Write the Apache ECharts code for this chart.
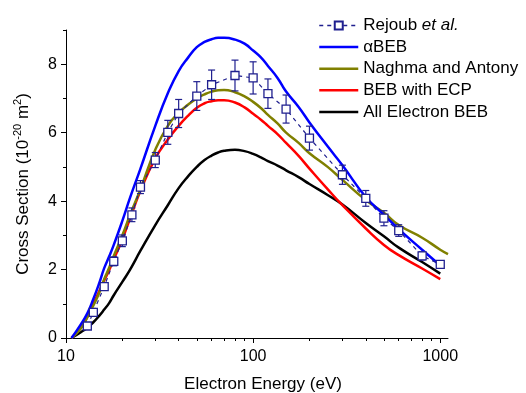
<!DOCTYPE html>
<html><head><meta charset="utf-8">
<script src="https://cdn.jsdelivr.net/npm/echarts@6/dist/echarts.min.js"></script>
<style>html,body{margin:0;padding:0;background:#fff}#c{width:526px;height:393px}</style>
</head><body><div id="c"></div>
<script>
// Electron energies (eV) used for the theoretical curves
const curveEnergy = [10.7, 12, 13, 14, 15, 16, 17, 18, 20, 22, 25, 30, 35, 40, 45, 50, 55, 60, 65, 70, 80, 90, 100, 110, 120, 135, 150, 175, 200, 250, 300, 400, 500, 600, 800, 1000, 1100];
const alphaBEB    = [0, 0.4, 0.72, 1.14, 1.58, 2.04, 2.38, 2.72, 3.42, 4.1, 4.95, 6.2, 7.15, 7.8, 8.2, 8.5, 8.65, 8.73, 8.77, 8.77, 8.72, 8.6, 8.4, 8.2, 7.95, 7.6, 7.2, 6.75, 6.3, 5.6, 5.05, 4.12, 3.6, 3.18, 2.58, 2.12, null];
const naghma      = [0, 0.28, 0.6, 0.95, 1.3, 1.72, 2.05, 2.4, 3.0, 3.6, 4.35, 5.5, 6.2, 6.58, 6.82, 7.0, 7.12, 7.2, 7.24, 7.25, 7.18, 7.06, 6.9, 6.72, 6.52, 6.27, 6.0, 5.7, 5.4, 5.0, 4.62, 4.03, 3.66, 3.3, 2.93, 2.58, 2.45];
const bebECP      = [0, 0.3, 0.62, 1.0, 1.35, 1.68, 1.98, 2.3, 2.88, 3.5, 4.3, 5.25, 5.8, 6.2, 6.5, 6.73, 6.86, 6.92, 6.95, 6.95, 6.88, 6.74, 6.55, 6.38, 6.2, 5.96, 5.7, 5.32, 4.95, 4.35, 3.88, 3.2, 2.72, 2.42, 2.03, 1.72, null];
const allElecBEB  = [0, 0.17, 0.3, 0.46, 0.64, 0.83, 1.02, 1.25, 1.64, 2.0, 2.55, 3.3, 3.88, 4.38, 4.73, 5.0, 5.2, 5.33, 5.42, 5.47, 5.5, 5.46, 5.38, 5.28, 5.17, 5.04, 4.9, 4.7, 4.5, 4.18, 3.9, 3.36, 2.97, 2.64, 2.22, 1.88, null];

// Rejoub et al. measurements
const expEnergy = [13, 14, 16, 18, 20, 22.5, 25, 30, 35, 40, 50, 60, 80, 100, 120, 150, 200, 300, 400, 500, 600, 800, 1000];
const expValue  = [0.35, 0.75, 1.50, 2.24, 2.84, 3.60, 4.41, 5.20, 6.01, 6.56, 7.07, 7.40, 7.67, 7.60, 7.14, 6.69, 5.84, 4.77, 4.08, 3.50, 3.14, 2.40, 2.15];
const expError  = [0.03, 0.05, 0.09, 0.13, 0.17, 0.20, 0.19, 0.22, 0.35, 0.41, 0.42, 0.43, 0.45, 0.47, 0.43, 0.41, 0.35, 0.28, 0.23, 0.22, 0.17, 0.12, 0.10];

// Axis ticks
const xMajorTicks = [10, 100, 1000];
const xMinorTicks = [20, 30, 40, 50, 60, 70, 80, 90, 200, 300, 400, 500, 600, 700, 800, 900];
const yMajorTicks = [0, 2, 4, 6, 8];
const yMinorTicks = [1, 3, 5, 7, 9];

const seriesNames = ['Rejoub et al.', 'αBEB', 'Naghma and Antony', 'BEB with ECP', 'All Electron BEB'];

const FONT = 'Liberation Sans';
const NAVY = '#1f1f8f';

function pairs(xs, ys) {
  const out = [];
  xs.forEach((x, i) => { if (ys[i] !== null && ys[i] !== undefined) out.push([x, ys[i]]); });
  return out;
}

const chart = echarts.init(document.getElementById('c'), null, {renderer: 'canvas'});

const curveSeries = (name, data, color) => ({
  name, type: 'line', data: pairs(curveEnergy, data), smooth: 0.5,
  showSymbol: false, symbol: 'none', color,
  lineStyle: {color, width: 2.5}, z: 3, silent: true
});

chart.setOption({
  animation: false,
  backgroundColor: '#fff',
  grid: {left: 66, right: 78, top: 30, bottom: 55, containLabel: false, outerBoundsMode: 'none'},
  legend: {
    data: seriesNames.map((n, i) => i === 0
      ? {name: n, lineStyle: {width: 1.3, type: [4, 4]}}
      : {name: n, itemStyle: {opacity: 0}, lineStyle: {width: 2.5}}),
    orient: 'vertical', left: 318, top: 17, padding: 0,
    itemWidth: 39, itemHeight: 10, itemGap: 4.6,
    formatter: n => n === 'Rejoub et al.' ? '{n|Rejoub }{i|et al.}' : n,
    textStyle: {fontFamily: FONT, fontSize: 17, color: '#000', lineHeight: 17,
      rich: {n: {fontFamily: FONT, fontSize: 17, lineHeight: 17}, i: {fontFamily: FONT, fontSize: 17, fontStyle: 'italic', lineHeight: 17}}}
  },
  xAxis: [{
    type: 'log', logBase: 10, min: 10, max: 1100,
    axisLine: {lineStyle: {color: '#000', width: 1}},
    axisTick: {show: true, length: 5, inside: false, customValues: xMajorTicks, lineStyle: {color: '#000'}},
    axisLabel: {customValues: xMajorTicks, formatter: v => String(Math.round(v)), fontFamily: FONT, fontSize: 16, color: '#000', margin: 11},
    splitLine: {show: false}, minorTick: {show: false}
  }, {
    type: 'log', logBase: 10, min: 10, max: 1100, position: 'bottom',
    axisLine: {show: false},
    axisTick: {show: true, length: 3, customValues: xMinorTicks, lineStyle: {color: '#000'}},
    axisLabel: {show: false}, splitLine: {show: false}
  }],
  yAxis: [{
    type: 'value', min: 0, max: 9, interval: 2,
    axisLine: {show: true, lineStyle: {color: '#000', width: 1}},
    axisTick: {show: true, length: 5, customValues: yMajorTicks, lineStyle: {color: '#000'}},
    axisLabel: {customValues: yMajorTicks, fontFamily: FONT, fontSize: 16, color: '#000', margin: 9},
    splitLine: {show: false}
  }, {
    type: 'value', min: 0, max: 9, interval: 1, position: 'left',
    axisLine: {show: false},
    axisTick: {show: true, length: 3, customValues: yMinorTicks, lineStyle: {color: '#000'}},
    axisLabel: {show: false}, splitLine: {show: false}
  }],
  graphic: [
    {type: 'text', left: 'center', top: 376, z: 10,
     style: {text: 'Electron Energy (eV)', font: '17px "Liberation Sans"', fill: '#000'}},
    {type: 'text', x: 22, y: 184, rotation: Math.PI / 2, z: 10,
     style: {text: '{a|Cross Section (10}{s|-20}{a| m}{s|2}{a|)}', align: 'center', verticalAlign: 'middle',
       rich: {a: {fontFamily: FONT, fontSize: 17, fill: '#000', lineHeight: 20, verticalAlign: 'bottom'},
              s: {fontFamily: FONT, fontSize: 11, fill: '#000', lineHeight: 20, verticalAlign: 'top'}}}}
  ],
  series: [
    curveSeries('All Electron BEB', allElecBEB, '#000000'),
    curveSeries('BEB with ECP', bebECP, '#ff0000'),
    curveSeries('Naghma and Antony', naghma, '#808000'),
    curveSeries('αBEB', alphaBEB, '#0000ff'),
    {
      name: 'errors', type: 'custom', z: 4, silent: true,
      data: expEnergy.map((e, i) => [e, expValue[i] - expError[i], expValue[i] + expError[i]]),
      encode: {x: 0, y: [1, 2]},
      renderItem: (params, api) => {
        const x = api.value(0);
        const top = api.coord([x, api.value(2)]);
        const bot = api.coord([x, api.value(1)]);
        const hw = 3.5;
        const st = {stroke: NAVY, lineWidth: 1.2};
        return {type: 'group', children: [
          {type: 'line', shape: {x1: top[0], y1: top[1], x2: bot[0], y2: bot[1]}, style: st},
          {type: 'line', shape: {x1: top[0] - hw, y1: top[1], x2: top[0] + hw, y2: top[1]}, style: st},
          {type: 'line', shape: {x1: bot[0] - hw, y1: bot[1], x2: bot[0] + hw, y2: bot[1]}, style: st}
        ]};
      }
    },
    {
      name: 'Rejoub et al.', type: 'line', data: pairs(expEnergy, expValue), z: 5,
      symbol: 'rect', symbolSize: 8, showSymbol: true, color: NAVY,
      lineStyle: {color: NAVY, width: 1.2, type: [4, 4]},
      itemStyle: {color: '#fff', borderColor: NAVY, borderWidth: 1.3}
    }
  ]
});
</script></body></html>
